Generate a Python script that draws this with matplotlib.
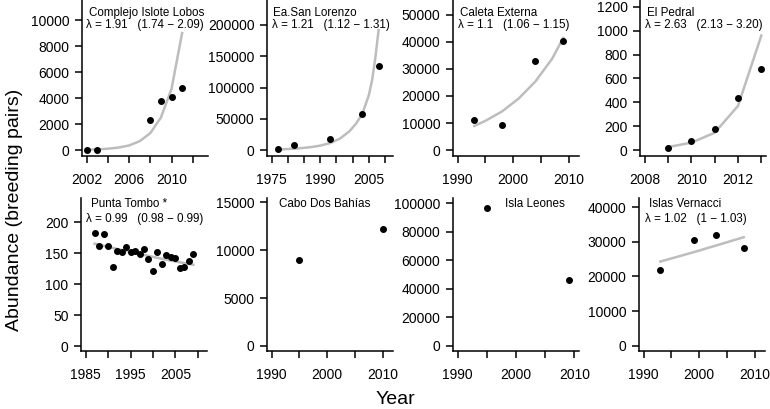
import matplotlib
matplotlib.use("Agg")
import matplotlib.pyplot as plt

plt.rcParams["font.family"] = ["Liberation Sans", "DejaVu Sans"]

# ---- data ----
names = ["Complejo Islote Lobos", "Ea.San Lorenzo", "Caleta Externa", "El Pedral",
         "Punta Tombo *", "Cabo Dos Bahías", "Isla Leones", "Islas Vernacci"]
lambdas = ["λ = 1.91   (1.74 − 2.09)", "λ = 1.21   (1.12 − 1.31)",
           "λ = 1.1   (1.06 − 1.15)", "λ = 2.63   (2.13 − 3.20)",
           "λ = 0.99   (0.98 − 0.99)", None, None, "λ = 1.02   (1 − 1.03)"]

lobos_years = [2002, 2003, 2008, 2009, 2010, 2011]
lobos_pairs = [20, 30, 2280, 3790, 4100, 4770]
lobos_fit_years = [2002, 2003, 2004, 2005, 2006, 2007, 2008, 2009, 2010, 2011]
lobos_fit = [30, 50, 100, 190, 350, 680, 1300, 2500, 4700, 9000]

lorenzo_years = [1977, 1982, 1993, 2003, 2008]
lorenzo_pairs = [1000, 8000, 17600, 57000, 134400]
lorenzo_fit_years = [1977, 1982, 1987, 1990, 1993, 1996, 1999, 2001, 2003, 2005, 2006, 2007, 2008]
lorenzo_fit = [800, 2000, 4500, 7000, 11000, 18000, 30000, 42000, 58000, 88000, 112000, 148000, 192000]

caleta_years = [1993, 1998, 2004, 2009]
caleta_pairs = [11100, 9400, 33000, 40200]
caleta_fit_years = [1993, 1995, 1998, 2001, 2004, 2007, 2009]
caleta_fit = [8900, 10800, 14300, 19100, 25400, 33800, 41500]

pedral_years = [2009, 2010, 2011, 2012, 2013]
pedral_pairs = [17, 78, 179, 436, 677]
pedral_fit = [25, 62, 145, 370, 960]

tombo_years = [1987, 1988, 1989, 1990, 1991, 1992, 1993, 1994, 1995, 1996, 1997, 1998,
               1999, 2000, 2001, 2002, 2003, 2004, 2005, 2006, 2007, 2008, 2009]
tombo_pairs = [183, 161, 181, 162, 128, 153, 152, 159, 151, 153, 148, 156,
               141, 121, 152, 132, 147, 144, 142, 126, 128, 137, 149]
tombo_fit_years = [1987, 1993, 1998, 2003, 2009]
tombo_fit = [165, 155, 147, 139, 131]

cabo_years = [1995, 2010]
cabo_pairs = [9000, 12200]

leones_years = [1995, 2009]
leones_pairs = [96200, 45900]

vernacci_years = [1993, 1999, 2003, 2008]
vernacci_pairs = [21900, 30600, 32000, 28100]
vernacci_fit_years = [1993, 1999, 2003, 2008]
vernacci_fit = [24300, 27000, 28900, 31300]

points = [(lobos_years, lobos_pairs), (lorenzo_years, lorenzo_pairs),
          (caleta_years, caleta_pairs), (pedral_years, pedral_pairs),
          (tombo_years, tombo_pairs), (cabo_years, cabo_pairs),
          (leones_years, leones_pairs), (vernacci_years, vernacci_pairs)]
fits = [(lobos_fit_years, lobos_fit), (lorenzo_fit_years, lorenzo_fit),
        (caleta_fit_years, caleta_fit), (pedral_years, pedral_fit),
        (tombo_fit_years, tombo_fit), None, None,
        (vernacci_fit_years, vernacci_fit)]

# ---- layout (pixels in a 770x409 figure) ----
W, H = 770, 409
col_left = [82, 267, 453, 640, 81, 267, 453, 639]
box_w = 126
row_box = {0: (0, 156), 1: (198, 351)}
x_range = [(2002, 2013), (1975, 2011), (1990, 2011), (2008, 2013),
           (1985, 2011), (1990, 2011), (1990, 2010), (1990, 2011)]
y_lims = [(-460, 11540), (-9600, 240000), (-2222, 55555), (-50, 1258),
          (-8, 238.7), (-521, 15417), (-3500, 103500), (-1439, 42590)]
x_ticks = [range(2002, 2013, 2), range(1975, 2011, 5), range(1990, 2011, 5),
           range(2008, 2014), range(1985, 2011, 5), range(1990, 2011, 5),
           range(1990, 2011, 5), range(1990, 2011, 5)]
x_shown = [{2002, 2006, 2010}, {1975, 1990, 2005}, {1990, 2000, 2010},
           {2008, 2010, 2012}, {1985, 1995, 2005}, {1990, 2000, 2010},
           {1990, 2000, 2010}, {1990, 2000, 2010}]
y_ticks = [range(0, 10001, 2000), range(0, 200001, 50000), range(0, 50001, 10000),
           range(0, 1201, 200), range(0, 201, 50), range(0, 15001, 5000),
           range(0, 100001, 20000), range(0, 40001, 10000)]
title_dx = [7, 6, 7, 7, 10, 12, 52, 10]
lam_dx = [4, 5, 5, 5, 5, 5, 5, 6]
title_y = {0: 13, 1: 204}
lam_y = {0: 25, 1: 219}

fig = plt.figure(figsize=(W / 100, H / 100), dpi=100)

for i in range(8):
    row = i // 4
    top, bot = row_box[row]
    left = col_left[i]
    ax = fig.add_axes([left / W, 1 - bot / H, box_w / W, (bot - top) / H])
    a, b = x_range[i]
    pad = 0.04 * (b - a)
    ax.set_xlim(a - pad, b + pad)
    ax.set_ylim(*y_lims[i])

    if fits[i] is not None:
        ax.plot(fits[i][0], fits[i][1], color="#bdbdbd", lw=1.8, zorder=2)
    ax.plot(points[i][0], points[i][1], "o", color="black", markersize=4, zorder=3)

    ax.set_xticks(list(x_ticks[i]))
    ax.set_xticklabels([str(t) if t in x_shown[i] else "" for t in x_ticks[i]])
    ax.set_yticks(list(y_ticks[i]))
    ax.set_yticklabels([str(t) for t in y_ticks[i]])
    for s in ["top", "right"]:
        ax.spines[s].set_visible(False)
    for s in ["left", "bottom"]:
        ax.spines[s].set_linewidth(1.1)
    ax.tick_params(axis="both", direction="out", length=5, width=1.1, labelsize=10)
    ax.tick_params(axis="x", pad=7)
    ax.tick_params(axis="y", pad=4)

    fig.text((left + title_dx[i]) / W, 1 - title_y[row] / H, names[i],
             fontsize=8.4, ha="left", va="center")
    if lambdas[i]:
        fig.text((left + lam_dx[i]) / W, 1 - lam_y[row] / H, lambdas[i],
                 fontsize=8.4, ha="left", va="center")

fig.text(395 / W, 1 - 400 / H, "Year", fontsize=14, ha="center", va="center")
fig.text(15 / W, 1 - 210 / H, "Abundance (breeding pairs)", fontsize=14,
         rotation=90, ha="center", va="center")

fig.savefig("out.png", dpi=100)
